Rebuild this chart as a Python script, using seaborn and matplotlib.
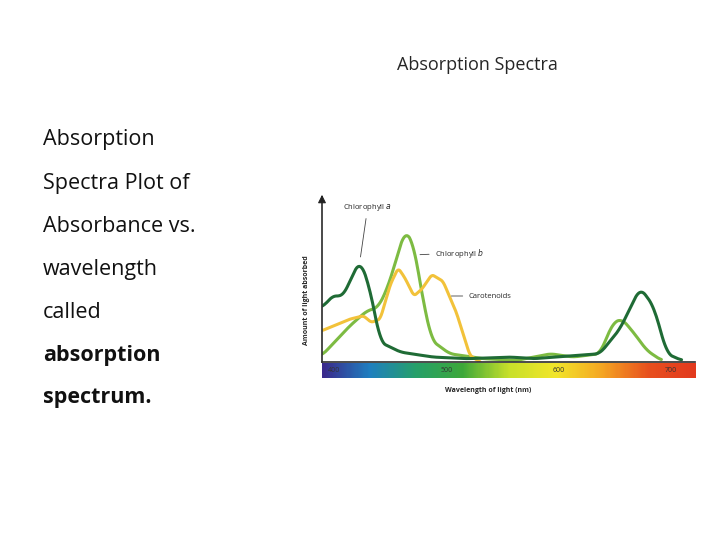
import numpy as np
import pandas as pd
import matplotlib
matplotlib.use("Agg")
import matplotlib.pyplot as plt
import seaborn as sns
from matplotlib.colors import LinearSegmentedColormap

# data (wavelength nm, relative absorbance)
chl_a_nm = [389, 400, 407, 423, 432, 441, 459, 488, 518, 557, 578, 616, 637, 655, 673, 685, 697, 710]
chl_a_abs = [33, 41, 39, 62, 44, 12, 6, 3, 2, 3, 2, 4, 5, 20, 45, 34, 5, 1]
chl_b_nm = [389, 414, 429, 439, 447, 454, 463, 471, 479, 487, 503, 533, 563, 593, 613, 637, 649, 657, 667, 679, 692]
chl_b_abs = [4, 22, 31, 33, 44, 59, 80, 71, 38, 13, 5, 2, 1, 5, 3, 5, 24, 26, 18, 7, 1]
car_nm = [389, 414, 426, 433, 441, 450, 457, 463, 471, 478, 487, 497, 509, 521, 530]
car_abs = [19, 26, 28, 24, 26, 47, 57, 51, 40, 44, 53, 49, 30, 4, 0]


def smooth(x, y):
    xs = np.linspace(min(x), max(x), 300)
    ys = np.interp(xs, x, y)
    k = np.ones(9) / 9
    ys = np.convolve(np.pad(ys, 4, mode="edge"), k, mode="valid")
    return pd.DataFrame({"nm": xs, "abs": ys})


sns.set_theme(style="white")
plt.rcParams["font.family"] = ["Open Sans", "DejaVu Sans"]

fig = plt.figure(figsize=(7.2, 5.4), dpi=100)
fig.patch.set_facecolor("white")

fig.text(477 / 720, 1 - 65 / 540, "Absorption Spectra", ha="center", va="center", fontsize=13)
lines = [("Absorption", "normal"), ("Spectra Plot of", "normal"), ("Absorbance vs.", "normal"),
         ("wavelength", "normal"), ("called", "normal"), ("absorption", "bold"), ("spectrum.", "bold")]
for i, (t, w) in enumerate(lines):
    fig.text(43 / 720, 1 - (140 + i * 43) / 540, t, ha="left", va="center", fontsize=15.5, weight=w, color="#111111")

XMIN, XMAX = 389, 722
ax = fig.add_axes([322 / 720, 1 - 362 / 540, (695 - 322) / 720, 165 / 540])
for x, y, c in [(chl_b_nm, chl_b_abs, "#7dbb42"), (car_nm, car_abs, "#f2c23a"), (chl_a_nm, chl_a_abs, "#1f6b35")]:
    sns.lineplot(data=smooth(x, y), x="nm", y="abs", ax=ax, color=c, lw=2.2)
ax.set_xlim(XMIN, XMAX)
ax.set_ylim(0, 100)
ax.set_xticks([]); ax.set_yticks([])
ax.set_xlabel(""); ax.set_ylabel("")
for s in ["top", "right"]:
    ax.spines[s].set_visible(False)
ax.spines["left"].set_color("#333333"); ax.spines["bottom"].set_color("#333333")
ax.annotate("", xy=(XMIN, 103), xytext=(XMIN, 95), xycoords="data",
            arrowprops=dict(arrowstyle="-|>", color="#222222", lw=0.8), annotation_clip=False)
fig.text(307 / 720, 1 - 300 / 540, "Amount of light absorbed", rotation=90, ha="center", va="center", fontsize=5, weight="bold")

ax.annotate("Chlorophyll $a$", xy=(423, 62), xytext=(408, 93), fontsize=5.5, ha="left",
            arrowprops=dict(arrowstyle="-", color="#444444", lw=0.6))
ax.annotate("Chlorophyll $b$", xy=(474, 65), xytext=(490, 66), fontsize=5.5, va="center",
            arrowprops=dict(arrowstyle="-", color="#444444", lw=0.6))
ax.annotate("Carotenoids", xy=(502, 40), xytext=(520, 40), fontsize=5.5, va="center",
            arrowprops=dict(arrowstyle="-", color="#444444", lw=0.6))

cax = fig.add_axes([322 / 720, 1 - 378 / 540, (695 - 322) / 720, 15 / 540])
cmap = LinearSegmentedColormap.from_list("spec", ["#3b2a8c", "#1f7fc0", "#26a06a", "#3da83a",
                                                  "#c8e02a", "#f2e62a", "#f5a623", "#e8501e", "#e23a1e"])
cax.imshow(np.linspace(0, 1, 300)[None, :], aspect="auto", cmap=cmap, extent=[XMIN, XMAX, 0, 1])
cax.set_xlim(XMIN, XMAX)
cax.set_xticks([]); cax.set_yticks([])
for s in cax.spines.values():
    s.set_visible(False)
for v in [400, 500, 600, 700]:
    cax.text(v, 0.5, str(v), ha="center", va="center", fontsize=5, color="#333333")
fig.text(488 / 720, 1 - 391 / 540, "Wavelength of light (nm)", ha="center", va="center", fontsize=5, weight="bold")

fig.savefig("out.png", dpi=100)
